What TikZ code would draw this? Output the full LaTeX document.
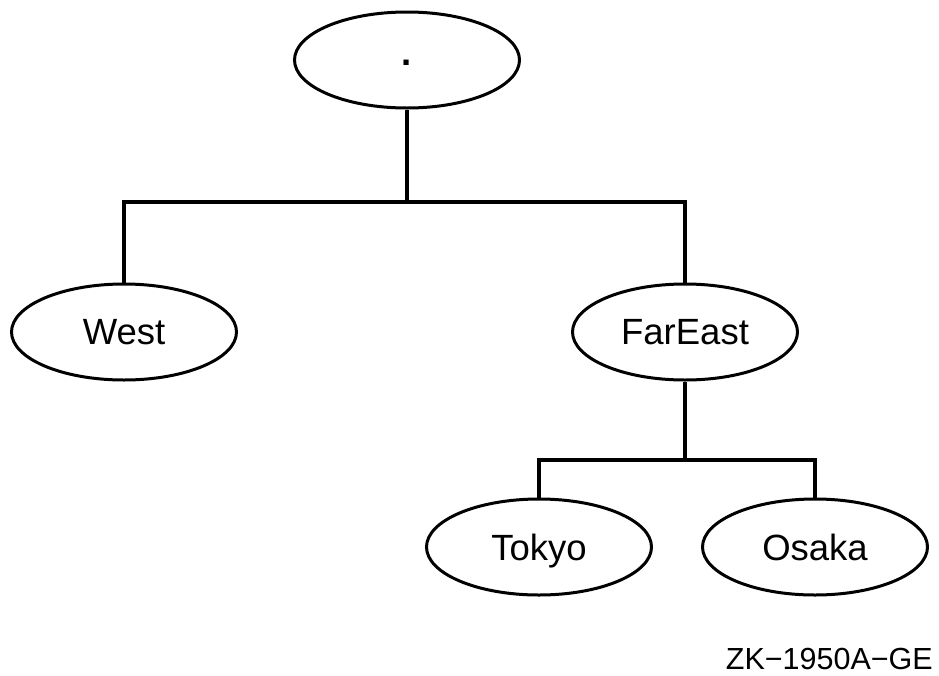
\documentclass[tikz,border=0pt]{standalone}
\usepackage{fontspec}
\setmainfont{Liberation Sans}
\usetikzlibrary{shapes.geometric}
\begin{document}
\begin{tikzpicture}[x=1pt,y=1pt,
  oval/.style={ellipse, draw=black, line width=3pt, minimum width=225pt, minimum height=96pt, inner sep=0pt, text depth=0pt, font=\fontsize{36.5}{40}\selectfont},
  conn/.style={draw=black, line width=4pt}]
\useasboundingbox (0,0) rectangle (939,-675);
\node[oval, text height=11pt] (root) at (407,-60) {\textbf{.}};
\node[oval] (west) at (124,-332) {West};
\node[oval] (fareast) at (685,-332) {FarEast};
\node[oval] (tokyo) at (539,-547) {Tokyo};
\node[oval] (osaka) at (815,-547) {Osaka};
\coordinate (bus1) at (0,-202);
\coordinate (bus2) at (0,-460);
\draw[conn] (root.south) -- (root.south |- bus1);
\draw[conn] (west.north) -- (west.north |- bus1) -- (fareast.north |- bus1) -- (fareast.north);
\draw[conn] (fareast.south) -- (fareast.south |- bus2);
\draw[conn] (tokyo.north) -- (tokyo.north |- bus2) -- (osaka.north |- bus2) -- (osaka.north);
\node[anchor=base east, inner sep=0pt, font=\fontsize{30.5}{34}\selectfont] (label) at (933,-669) {ZK−1950A−GE};
\end{tikzpicture}
\end{document}
